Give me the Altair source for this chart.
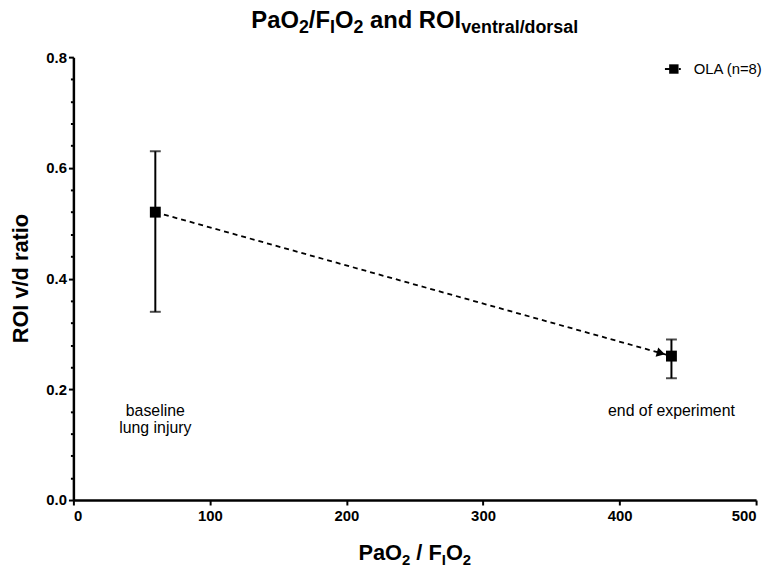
import altair as alt
import pandas as pd
import math

# ---- data ----
pao2 = [60, 438]
roi_mean = [0.52, 0.26]
roi_low = [0.34, 0.22]
roi_high = [0.63, 0.29]
phase_labels = ["baseline\nlung injury", "end of experiment"]
label_y = [0.152, 0.152]
series_name = "OLA (n=8)"
x_ticks = [0, 100, 200, 300, 400, 500]
y_ticks = [0.0, 0.2, 0.4, 0.6, 0.8]
y_minor = [round(i * 0.04, 2) for i in range(21) if i % 5 != 0]

W, H = 689, 447
FONT = "Liberation Sans"

df = pd.DataFrame({"pao2": pao2, "roi": roi_mean, "low": roi_low, "high": roi_high})
ann = pd.DataFrame({"pao2": pao2, "y": label_y, "label": phase_labels})

xs = alt.Scale(domain=[0, 500], nice=False)
ys = alt.Scale(domain=[0, 0.8], nice=False)

xax = alt.Axis(values=x_ticks, title=None, labelFont=FONT, labelFontWeight="bold",
               labelFontSize=15, labelColor="black", labelPadding=4, tickSize=5,
               tickWidth=2, tickColor="black", domainColor="black", domainWidth=2.5,
               grid=False, labelOverlap=False)
yax = alt.Axis(values=y_ticks, title=None, orient="left", format=".1f", labelFont=FONT,
               labelFontWeight="bold", labelFontSize=15, labelColor="black", labelPadding=2,
               tickSize=5, tickWidth=2, tickColor="black", domainColor="black",
               domainWidth=2.5, grid=False, labelOverlap=False)
yminor = alt.Axis(values=y_minor, title=None, orient="left", labels=False, domain=False,
                  tickSize=3, tickWidth=2, tickColor="black", grid=False)

base = alt.Chart(df)
X = alt.X("pao2:Q", scale=xs, axis=xax)

line = base.mark_line(color="black", strokeDash=[5, 4], strokeWidth=1.8).encode(
    x=X, y=alt.Y("roi:Q", scale=ys, axis=yax))
minor = base.mark_point(opacity=0).encode(
    x=X, y=alt.Y("roi:Q", scale=ys, axis=yminor))
err = base.mark_rule(color="black", strokeWidth=2).encode(
    x=X, y=alt.Y("low:Q", scale=ys, axis=None), y2="high:Q")
cap_lo = base.mark_tick(color="black", orient="horizontal", size=11, thickness=2).encode(
    x=X, y=alt.Y("low:Q", scale=ys, axis=None))
cap_hi = base.mark_tick(color="black", orient="horizontal", size=11, thickness=2).encode(
    x=X, y=alt.Y("high:Q", scale=ys, axis=None))
pts = base.mark_square(color="black", size=121, opacity=1).encode(
    x=X, y=alt.Y("roi:Q", scale=ys, axis=None))

# arrowhead just before the second point, along the line
px_per_x = W / 500
px_per_y = H / 0.8
dxp = (pao2[1] - pao2[0]) * px_per_x
dyp = (roi_mean[0] - roi_mean[1]) * px_per_y
ang = math.degrees(math.atan2(dyp, dxp))
back = 11 / math.hypot(dxp, dyp)
arr = pd.DataFrame({"pao2": [pao2[1] - (pao2[1] - pao2[0]) * back],
                    "roi": [roi_mean[1] + (roi_mean[0] - roi_mean[1]) * back]})
arrow = alt.Chart(arr).mark_point(shape="triangle-right", filled=True, color="black",
                                  size=95, angle=ang, opacity=1).encode(
    x=X, y=alt.Y("roi:Q", scale=ys, axis=None))

notes = alt.Chart(ann).mark_text(font=FONT, fontSize=16, color="black", align="center",
                                 baseline="alphabetic", lineBreak="\n", lineHeight=17).encode(
    x=X, y=alt.Y("y:Q", scale=ys, axis=None), text="label:N")

# ---- rich text (sub-scripts) helpers ----
ARIAL_B = {" ": 278, "/": 278, "2": 556, "P": 667, "a": 556, "O": 778, "F": 611, "I": 278,
           "n": 611, "d": 611, "R": 722, "v": 556, "e": 556, "t": 333, "r": 389, "l": 278,
           "s": 556, "o": 611}
one = pd.DataFrame({"k": [0]})


def rich(pieces, cx, by, fmain, fsub, drop):
    widths = []
    for txt, sub in pieces:
        f = fsub if sub else fmain
        widths.append(sum(ARIAL_B[c] for c in txt) / 1000 * f)
    x0 = cx - sum(widths) / 2
    layers = []
    for (txt, sub), w in zip(pieces, widths):
        f = fsub if sub else fmain
        lead = (len(txt) - len(txt.lstrip(" "))) * ARIAL_B[" "] / 1000 * f
        layers.append(alt.Chart(one).mark_text(
            font=FONT, fontWeight="bold", fontSize=f, color="black",
            align="left", baseline="alphabetic").encode(
            x=alt.value(x0 + lead), y=alt.value(by + (drop if sub else 0)),
            text=alt.value(txt.strip(" "))))
        x0 += w
    return layers


title_layers = rich([("PaO", False), ("2", True), ("/F", False), ("I", True), ("O", False),
                     ("2", True), (" and ROI", False), ("ventral/dorsal", True)],
                    W / 2, -29, 24, 18, 5)
xtitle_layers = rich([("PaO", False), ("2", True), (" / F", False), ("I", True), ("O", False),
                      ("2", True)], W / 2, 508, 22, 15, 5)

ytitle = alt.Chart(one).mark_text(font=FONT, fontWeight="bold", fontSize=22, color="black",
                                  angle=270, align="center", baseline="middle").encode(
    x=alt.value(-53), y=alt.value(H / 2), text=alt.value("ROI v/d ratio"))

# ---- legend ----
leg_line = alt.Chart(one).mark_rule(color="black", strokeWidth=2).encode(
    x=alt.value(597), x2=alt.value(603), y=alt.value(12))
leg_dot = alt.Chart(one).mark_rule(color="black", strokeWidth=2).encode(
    x=alt.value(611), x2=alt.value(613), y=alt.value(12))
leg_sq = alt.Chart(one).mark_square(color="black", size=90, opacity=1).encode(
    x=alt.value(606), y=alt.value(12))
leg_txt = alt.Chart(one).mark_text(font=FONT, fontSize=15, color="black", align="left",
                                   baseline="middle").encode(
    x=alt.value(626), y=alt.value(12), text=alt.value(series_name))

chart = alt.layer(line, minor, err, cap_lo, cap_hi, pts, arrow, notes, ytitle,
                  leg_line, leg_dot, leg_sq, leg_txt, *title_layers, *xtitle_layers).resolve_axis(
    y="independent").properties(
    width=W, height=H,
    background="white",
    autosize=alt.AutoSizeParams(type="none"),
    padding={"left": 66, "top": 47, "right": 10, "bottom": 66},
).configure_view(stroke=None, strokeWidth=0)

chart.save("out.html", embed_options={"renderer": "svg", "actions": False})
